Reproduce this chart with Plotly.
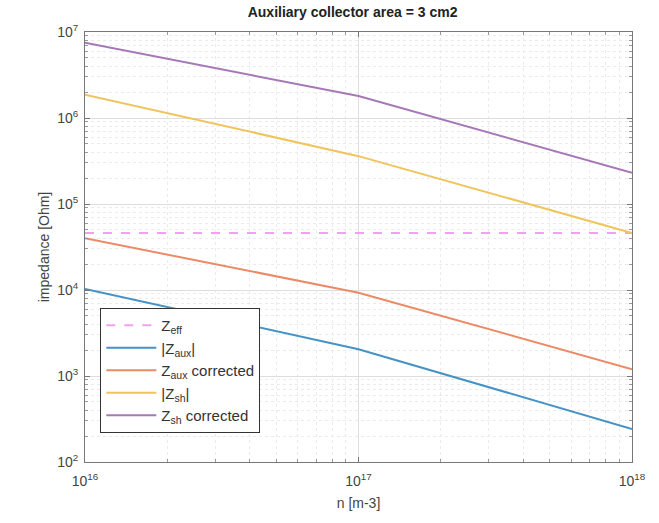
import plotly.graph_objects as go

n = [1e16, 1e17, 1e18]
z_eff = [4.6e4, 4.6e4, 4.6e4]
z_aux = [1.03e4, 2.05e3, 2.42e2]
z_aux_corr = [4.0e4, 9.3e3, 1.2e3]
z_sh = [1.87e6, 3.6e5, 4.6e4]
z_sh_corr = [7.5e6, 1.8e6, 2.31e5]

x_ticks = [1e16, 1e17, 1e18]
x_ticktext = ["10<sup>16</sup>", "10<sup>17</sup>", "10<sup>18</sup>"]
y_ticks = [1e2, 1e3, 1e4, 1e5, 1e6, 1e7]
y_ticktext = ["10<sup>2</sup>", "10<sup>3</sup>", "10<sup>4</sup>", "10<sup>5</sup>", "10<sup>6</sup>", "10<sup>7</sup>"]

x_minor = [m * 10 ** e for e in (16, 17) for m in range(2, 10)]
y_minor = [m * 10 ** e for e in (2, 3, 4, 5, 6) for m in range(2, 10)]

fig = go.Figure()
fig.add_trace(go.Scatter(x=n, y=z_eff, mode="lines", name="Z<sub>eff</sub>",
                         line=dict(color="#f4a0f0", width=2, dash="dash")))
fig.add_trace(go.Scatter(x=n, y=z_aux, mode="lines", name="|Z<sub>aux</sub>|",
                         line=dict(color="#4593c6", width=2)))
fig.add_trace(go.Scatter(x=n, y=z_aux_corr, mode="lines", name="Z<sub>aux</sub> corrected",
                         line=dict(color="#ec8a66", width=2)))
fig.add_trace(go.Scatter(x=n, y=z_sh, mode="lines", name="|Z<sub>sh</sub>|",
                         line=dict(color="#f0c45c", width=2)))
fig.add_trace(go.Scatter(x=n, y=z_sh_corr, mode="lines", name="Z<sub>sh</sub> corrected",
                         line=dict(color="#a678b8", width=2)))

axis_common = dict(
    type="log", showline=True, linecolor="#777", linewidth=1, mirror="allticks",
    ticks="inside", ticklen=5, tickcolor="#777",
    showgrid=True, gridcolor="#dedede", gridwidth=1,
    tickfont=dict(family="Liberation Sans", size=14, color="#444"),
    zeroline=False,
)

fig.update_layout(
    width=659, height=523,
    margin=dict(l=85, r=27, t=32, b=61),
    paper_bgcolor="white", plot_bgcolor="white",
    font=dict(family="Liberation Sans", color="#333"),
    title=dict(text="<b>Auxiliary collector area = 3 cm2</b>", x=0.535, xanchor="center",
               y=0.977, yanchor="middle", font=dict(size=14, color="#222")),
    xaxis=dict(**axis_common, range=[16, 18], tickvals=x_ticks, ticktext=x_ticktext,
               ticklabelstandoff=6,
               title=dict(text="n [m-3]", font=dict(size=14, color="#444"), standoff=10),
               minor=dict(tickvals=x_minor, showgrid=True, gridcolor="#ebebeb", griddash="dot",
                          ticks="inside", ticklen=3, tickcolor="#999")),
    yaxis=dict(**axis_common, range=[2, 7], tickvals=y_ticks, ticktext=y_ticktext,
               ticklabelstandoff=3,
               title=dict(text="impedance [Ohm]", font=dict(size=14, color="#444"), standoff=4),
               minor=dict(tickvals=y_minor, showgrid=True, gridcolor="#ebebeb", griddash="dot",
                          ticks="inside", ticklen=3, tickcolor="#999")),
    legend=dict(x=0.028, y=0.358, xanchor="left", yanchor="top",
                bgcolor="white", bordercolor="#333", borderwidth=1,
                font=dict(family="Liberation Sans", size=15, color="#333"),
                itemwidth=50, tracegroupgap=0),
    showlegend=True,
)

fig.write_html("out.html")
